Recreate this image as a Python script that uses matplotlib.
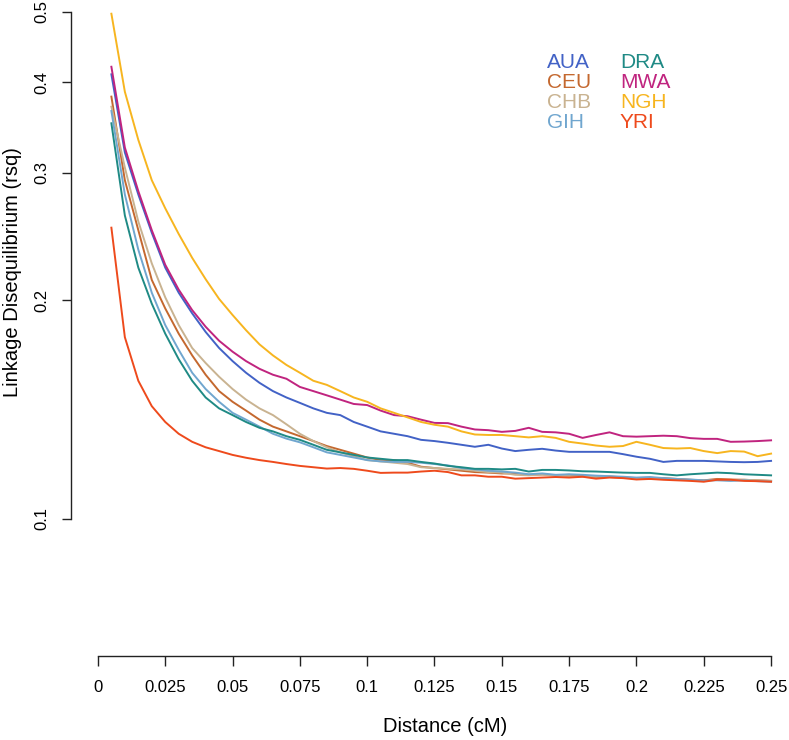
import numpy as np
import matplotlib
matplotlib.use("Agg")
import matplotlib.pyplot as plt

plt.rcParams['font.family'] = ['Liberation Sans', 'DejaVu Sans']

# distance (cM): 0.005 ... 0.25 in steps of 0.005
distance = np.round(np.arange(1, 51) * 0.005, 3)

AUA = [0.410, 0.320, 0.280, 0.248, 0.222, 0.205, 0.192, 0.181, 0.172, 0.165,
       0.159, 0.154, 0.150, 0.147, 0.1445, 0.142, 0.140, 0.139, 0.136, 0.134,
       0.132, 0.131, 0.130, 0.1285, 0.128, 0.1273, 0.1265, 0.1257, 0.1265, 0.125,
       0.124, 0.1245, 0.1249, 0.1242, 0.1237, 0.1237, 0.1237, 0.1237, 0.1228, 0.1218,
       0.121, 0.1198, 0.1202, 0.1202, 0.1202, 0.1200, 0.1198, 0.1197, 0.1198, 0.1202]

CEU = [0.382, 0.293, 0.250, 0.2135, 0.195, 0.180, 0.168, 0.158, 0.150, 0.145,
       0.141, 0.137, 0.134, 0.132, 0.130, 0.128, 0.126, 0.1245, 0.123, 0.1215,
       0.1205, 0.1205, 0.1195, 0.118, 0.1175, 0.117, 0.1165, 0.116, 0.1158, 0.1155,
       0.1155, 0.115, 0.1152, 0.1148, 0.115, 0.1145, 0.1142, 0.1142, 0.1140, 0.1138,
       0.1135, 0.1138, 0.1135, 0.1132, 0.1130, 0.1135, 0.1133, 0.1132, 0.1130, 0.1128]

CHB = [0.370, 0.305, 0.257, 0.225, 0.202, 0.185, 0.172, 0.164, 0.157, 0.151,
       0.146, 0.142, 0.139, 0.135, 0.131, 0.128, 0.1255, 0.1235, 0.122, 0.1205,
       0.1200, 0.1195, 0.1190, 0.1178, 0.1175, 0.1172, 0.1170, 0.1165, 0.116, 0.1158,
       0.115, 0.1148, 0.1150, 0.1148, 0.1145, 0.1143, 0.1143, 0.1145, 0.1140, 0.1138,
       0.1140, 0.1135, 0.1135, 0.1130, 0.1128, 0.1132, 0.1130, 0.1132, 0.1130, 0.1128]

GIH = [0.365, 0.280, 0.235, 0.205, 0.185, 0.171, 0.159, 0.151, 0.145, 0.140,
       0.137, 0.134, 0.131, 0.129, 0.1275, 0.1255, 0.1235, 0.1225, 0.1215, 0.1205,
       0.1200, 0.1198, 0.1198, 0.1195, 0.119, 0.1185, 0.1175, 0.117, 0.1165, 0.1162,
       0.1158, 0.1152, 0.1155, 0.1150, 0.1152, 0.1150, 0.1147, 0.1145, 0.1143, 0.1140,
       0.1142, 0.1138, 0.1135, 0.1133, 0.1130, 0.1130, 0.1128, 0.1130, 0.1127, 0.1125]

DRA = [0.351, 0.262, 0.222, 0.198, 0.180, 0.166, 0.155, 0.147, 0.142, 0.139,
       0.136, 0.1335, 0.1320, 0.130, 0.1285, 0.1265, 0.1245, 0.1235, 0.1225, 0.1215,
       0.1210, 0.1205, 0.1205, 0.1198, 0.1192, 0.1183, 0.1178, 0.1172, 0.1172, 0.1170,
       0.1172, 0.1162, 0.1168, 0.1168, 0.1166, 0.1163, 0.1162, 0.1160, 0.1158, 0.1157,
       0.1157, 0.1152, 0.1148, 0.1152, 0.1155, 0.1158, 0.1156, 0.1152, 0.1150, 0.1148]

MWA = [0.420, 0.325, 0.283, 0.250, 0.224, 0.207, 0.194, 0.184, 0.176, 0.170,
       0.165, 0.161, 0.158, 0.156, 0.152, 0.150, 0.148, 0.146, 0.144, 0.1435,
       0.141, 0.139, 0.1385, 0.137, 0.1356, 0.1355, 0.134, 0.1328, 0.1325, 0.1318,
       0.1322, 0.1335, 0.1318, 0.1316, 0.131, 0.1293, 0.1305, 0.1316, 0.130, 0.1298,
       0.1300, 0.1302, 0.1300, 0.1292, 0.1289, 0.1289, 0.1277, 0.1278, 0.1280, 0.1283]

NGH = [0.497, 0.388, 0.333, 0.293, 0.268, 0.247, 0.229, 0.214, 0.201, 0.191,
       0.182, 0.174, 0.168, 0.163, 0.159, 0.155, 0.153, 0.150, 0.147, 0.145,
       0.142, 0.140, 0.138, 0.136, 0.1348, 0.134, 0.132, 0.1307, 0.1305, 0.1305,
       0.1300, 0.1295, 0.1300, 0.1293, 0.1277, 0.1270, 0.1262, 0.1257, 0.1260, 0.1277,
       0.1265, 0.1252, 0.1250, 0.1252, 0.1240, 0.1232, 0.1240, 0.1238, 0.1220, 0.1230]

YRI = [0.252, 0.178, 0.155, 0.143, 0.136, 0.131, 0.1277, 0.1255, 0.124, 0.1225,
       0.1214, 0.1205, 0.1198, 0.119, 0.1183, 0.1178, 0.1173, 0.1175, 0.1172, 0.1165,
       0.1157, 0.1158, 0.1158, 0.1162, 0.1165, 0.116, 0.1148, 0.1148, 0.1143, 0.1143,
       0.1136, 0.1138, 0.1140, 0.1142, 0.1140, 0.1143, 0.1136, 0.1140, 0.1138, 0.1133,
       0.1135, 0.1132, 0.1130, 0.1128, 0.1125, 0.1132, 0.1132, 0.1128, 0.1127, 0.1125]

populations = ['AUA', 'CEU', 'CHB', 'GIH', 'DRA', 'MWA', 'NGH', 'YRI']
series = [AUA, CEU, CHB, GIH, DRA, MWA, NGH, YRI]
colors = ['#4262C6', '#C4682F', '#C9B391', '#70A6CF',
          '#1F8A85', '#C0247F', '#F7B51F', '#EE4A1C']

x_ticks = [0, 0.025, 0.05, 0.075, 0.1, 0.125, 0.15, 0.175, 0.2, 0.225, 0.25]
x_labels = ['0', '0.025', '0.05', '0.075', '0.1', '0.125', '0.15', '0.175', '0.2', '0.225', '0.25']
y_ticks = [0.1, 0.2, 0.3, 0.4, 0.5]
y_labels = ['0.1', '0.2', '0.3', '0.4', '0.5']

W, H = 789, 740
fig = plt.figure(figsize=(W / 100, H / 100), dpi=100)
# plot region in pixels: left 71, right 798, bottom 656, top -13 (cropped like the source)
ax = fig.add_axes([71 / W, (H - 656) / H, (798 - 71) / W, (656 + 13) / H])

for vals, col in zip(series, colors):
    ax.plot(distance, vals, color=col, lw=1.4, solid_joinstyle='round')

ax.set_yscale('log')
ax.set_xlim(-0.01, 0.26)
ax.set_ylim(0.0647, 0.541)

ax.set_xticks(x_ticks)
ax.set_xticklabels(x_labels)
ax.set_yticks(y_ticks)
ax.set_yticklabels(y_labels, rotation=90, va='center')
ax.minorticks_off()

for s in ['top', 'right']:
    ax.spines[s].set_visible(False)
ax.spines['left'].set_bounds(0.1, 0.5)
ax.spines['bottom'].set_bounds(0, 0.25)
for s in ['left', 'bottom']:
    ax.spines[s].set_linewidth(1.0)
    ax.spines[s].set_color('#222222')

ax.tick_params(axis='x', length=7, width=1.0, pad=10, labelsize=12, color='#222222')
ax.tick_params(axis='y', length=6.5, width=1.0, pad=9, labelsize=12, color='#222222')

fig.text(445 / W, 1 - 727 / H, 'Distance (cM)', fontsize=14.5, ha='center', va='center')
fig.text(13 / W, 1 - 272 / H, 'Linkage Disequilibrium (rsq)', fontsize=14.5,
         rotation=90, ha='center', va='center')

# legend as coloured text, two columns
rows_y = [62, 82.5, 102.5, 122.5]
for i, (name, col) in enumerate(zip(populations, colors)):
    col_x = 547 if i < 4 else 620
    fig.text(col_x / W, 1 - rows_y[i % 4] / H, name, color=col, fontsize=15,
             ha='left', va='center')

fig.savefig('out.png', dpi=100)
